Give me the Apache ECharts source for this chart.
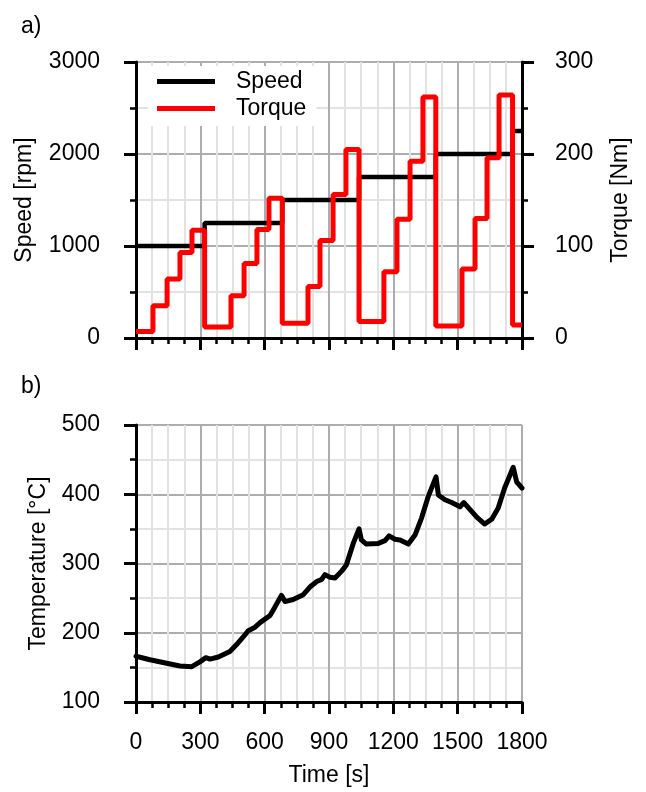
<!DOCTYPE html>
<html>
<head>
<meta charset="utf-8">
<script src="https://cdn.jsdelivr.net/npm/echarts@6/dist/echarts.min.js"></script>
<style>
html,body{margin:0;padding:0;background:#fff;}
#chart{width:646px;height:792px;}
</style>
</head>
<body>
<div id="chart"></div>
<script>
// ---- Data ----
const speedTime  = [0, 320, 320, 682, 682, 1040, 1040, 1398, 1398, 1756, 1756, 1800];
const speedValue = [1000, 1000, 1250, 1250, 1500, 1500, 1750, 1750, 2000, 2000, 2250, 2250];

const torqueTime = [0, 79, 79, 145, 145, 205, 205, 261, 261, 320,
  320, 443, 443, 504, 504, 564, 564, 620, 620, 682,
  682, 802, 802, 858, 858, 919, 919, 979, 979, 1040,
  1040, 1156, 1156, 1217, 1217, 1278, 1278, 1338, 1338, 1398,
  1398, 1520, 1520, 1581, 1581, 1637, 1637, 1693, 1693, 1756,
  1756, 1800];
const torqueValue = [7, 7, 35, 35, 64, 64, 93, 93, 117, 117,
  12, 12, 46, 46, 81, 81, 118, 118, 152, 152,
  16, 16, 56, 56, 106, 106, 156, 156, 205, 205,
  18, 18, 72, 72, 129, 129, 192, 192, 262, 262,
  13, 13, 75, 75, 130, 130, 196, 196, 264, 264,
  14, 14];

const tempTime = [0, 65, 143, 205, 260, 298, 326, 345, 384, 438, 469, 508, 524, 555, 580, 625,
  640, 678, 695, 733, 780, 811, 843, 866, 881, 905, 928, 959, 981, 1013, 1040, 1051, 1074,
  1130, 1161, 1180, 1208, 1231, 1270, 1301, 1332, 1363, 1399, 1410, 1441, 1472, 1511, 1529,
  1557, 1589, 1626, 1659, 1689, 1719, 1759, 1775, 1800];
const tempValue = [166, 161, 156, 152, 151, 158, 164, 162, 165, 173, 183, 197, 203, 208, 215, 225,
  233, 254, 245, 248, 255, 266, 274, 277, 284, 280, 279, 289, 298, 329, 350, 334, 328,
  329, 333, 340, 335, 334, 328, 341, 366, 397, 425, 399, 392, 388, 382, 388,
  378, 367, 357, 364, 380, 409, 439, 418, 409];

// ---- Chart ----
const FONT = 'Liberation Sans, Arial, sans-serif';
const FS = 23;
const zip = (a, b) => a.map((v, i) => [v, b[i]]);

function majorGrid() { return {show: true, lineStyle: {color: '#adadad', width: 2}}; }
function minorGrid() { return {show: true, lineStyle: {color: '#e2e2e2', width: 2}}; }
function axisLineBlack() { return {show: true, onZero: false, lineStyle: {color: '#000', width: 3}}; }
function tickBlack() { return {show: true, length: 12, lineStyle: {color: '#000', width: 3}}; }
function minorTickBlack(n) { return {show: true, splitNumber: n, length: 6, lineStyle: {color: '#000', width: 2.5}}; }
function label(margin) {
  return {show: true, margin: margin, color: '#000', fontSize: FS, fontFamily: FONT, formatter: v => String(v)};
}
function nameStyle() { return {color: '#000', fontSize: FS, fontFamily: FONT}; }

function xAxis(gridIndex, withLabels) {
  return {
    type: 'value', gridIndex: gridIndex, min: 0, max: 1800, interval: 300,
    axisLine: axisLineBlack(),
    axisTick: tickBlack(),
    minorTick: minorTickBlack(4),
    splitLine: majorGrid(),
    minorSplitLine: minorGrid(),
    axisLabel: withLabels ? label(29) : {show: false},
    name: withLabels ? 'Time [s]' : '',
    nameLocation: 'middle', nameGap: 62, nameTextStyle: nameStyle()
  };
}

const option = {
  animation: false,
  backgroundColor: '#fff',
  textStyle: {fontFamily: FONT},
  title: [
    {text: 'a)', left: 16, top: 10, textStyle: {color: '#000', fontSize: FS, fontWeight: 'normal', fontFamily: FONT}},
    {text: 'b)', left: 16, top: 370, textStyle: {color: '#000', fontSize: FS, fontWeight: 'normal', fontFamily: FONT}}
  ],
  grid: [
    {left: 136, top: 62, width: 386, height: 276},
    {left: 136, top: 425, width: 386, height: 277}
  ],
  legend: {
    data: ['Speed', 'Torque'],
    orient: 'vertical',
    left: 148, top: 66,
    icon: 'rect',
    itemWidth: 58, itemHeight: 5, itemGap: 4,
    backgroundColor: '#fff',
    padding: [4, 10, 6, 9],
    textStyle: {color: '#000', fontSize: FS, fontFamily: FONT, padding: [0, 0, 0, 16]}
  },
  xAxis: [xAxis(0, false), xAxis(1, true)],
  yAxis: [
    {
      type: 'value', gridIndex: 0, min: 0, max: 3000, interval: 1000, position: 'left',
      axisLine: axisLineBlack(), axisTick: tickBlack(),
      minorTick: minorTickBlack(2),
      splitLine: majorGrid(), minorSplitLine: minorGrid(),
      axisLabel: label(36),
      name: 'Speed [rpm]', nameLocation: 'middle', nameRotate: 90, nameGap: 100, nameTextStyle: nameStyle()
    },
    {
      type: 'value', gridIndex: 0, min: 0, max: 300, interval: 100, position: 'right',
      axisLine: axisLineBlack(), axisTick: tickBlack(),
      minorTick: minorTickBlack(2),
      splitLine: {show: false},
      axisLabel: label(33),
      name: 'Torque [Nm]', nameLocation: 'middle', nameRotate: 90, nameGap: 87, nameTextStyle: nameStyle()
    },
    {
      type: 'value', gridIndex: 1, min: 100, max: 500, interval: 100, position: 'left',
      axisLine: axisLineBlack(), axisTick: tickBlack(),
      minorTick: minorTickBlack(2),
      splitLine: majorGrid(), minorSplitLine: minorGrid(),
      axisLabel: label(36),
      name: 'Temperature [°C]', nameLocation: 'middle', nameRotate: 90, nameGap: 86, nameTextStyle: nameStyle()
    }
  ],
  series: [
    {
      name: 'Speed', type: 'line', xAxisIndex: 0, yAxisIndex: 0,
      data: zip(speedTime, speedValue), showSymbol: false, symbol: 'none',
      color: '#000', lineStyle: {color: '#000', width: 4.5}, z: 3
    },
    {
      name: 'Torque', type: 'line', xAxisIndex: 0, yAxisIndex: 1,
      data: zip(torqueTime, torqueValue), showSymbol: false, symbol: 'none',
      color: '#ff0000', lineStyle: {color: '#ff0000', width: 5}, z: 4
    },
    {
      name: 'Temperature', type: 'line', xAxisIndex: 1, yAxisIndex: 2,
      data: zip(tempTime, tempValue), showSymbol: false, symbol: 'none',
      color: '#000', lineStyle: {color: '#000', width: 5, join: 'round', cap: 'round'}, z: 3
    }
  ]
};

const chart = echarts.init(document.getElementById('chart'), null, {renderer: 'canvas'});
chart.setOption(option);
</script>
</body>
</html>
